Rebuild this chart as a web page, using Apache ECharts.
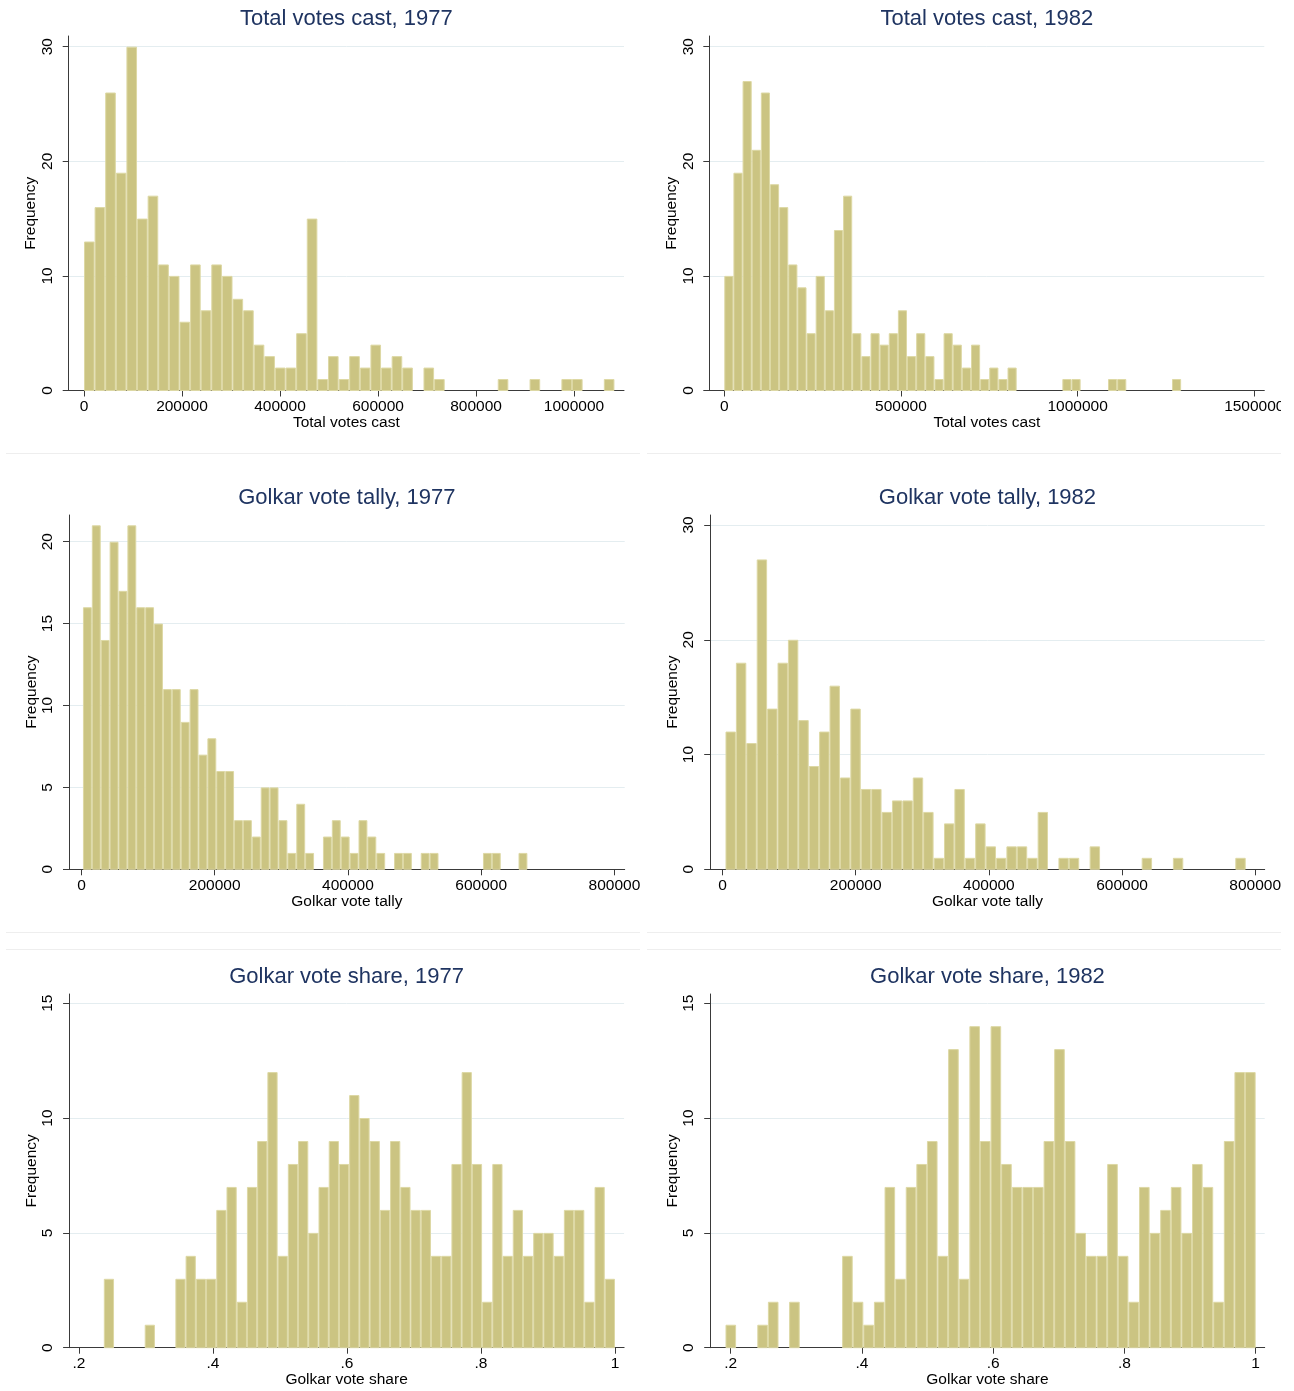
<!DOCTYPE html>
<html><head><meta charset="utf-8">
<script src="https://cdn.jsdelivr.net/npm/echarts@6/dist/echarts.min.js"></script>
<style>html,body{margin:0;padding:0;background:#fff}#c{width:1294px;height:1391px}</style>
</head><body><div id="c"></div>
<script>
// ---------- DATA ----------
// Histogram counts (50 bins each), bin start and bin width (in x units)
const totalVotes1977Counts = [13,16,26,19,30,15,17,11,10,6,11,7,11,10,8,7,4,3,2,2,5,15,1,3,1,3,2,4,2,3,2,0,2,1,0,0,0,0,0,1,0,0,1,0,0,1,1,0,0,1];
const totalVotes1977BinStart = 0;
const totalVotes1977BinWidth = 21650;

const totalVotes1982Counts = [10,19,27,21,26,18,16,11,9,5,10,7,14,17,5,3,5,4,5,7,3,5,3,1,5,4,2,4,1,2,1,2,0,0,0,0,0,1,1,0,0,0,1,1,0,0,0,0,0,1];
const totalVotes1982BinStart = 0;
const totalVotes1982BinWidth = 25858;

const golkarTally1977Counts = [16,21,14,20,17,21,16,16,15,11,11,9,11,7,8,6,6,3,3,2,5,5,3,1,4,1,0,2,3,2,1,3,2,1,0,1,1,0,1,1,0,0,0,0,0,1,1,0,0,1];
const golkarTally1977BinStart = 2186;
const golkarTally1977BinWidth = 13344;

const golkarTally1982Counts = [12,18,11,27,14,18,20,13,9,12,16,8,14,7,7,5,6,6,8,5,1,4,7,1,4,2,1,2,2,1,5,0,1,1,0,2,0,0,0,0,1,0,0,1,0,0,0,0,0,1];
const golkarTally1982BinStart = 4377;
const golkarTally1982BinWidth = 15628;

const golkarShare1977Counts = [3,0,0,0,1,0,0,3,4,3,3,6,7,2,7,9,12,4,8,9,5,7,9,8,11,10,9,6,9,7,6,6,4,4,8,12,8,2,8,4,6,4,5,5,4,6,6,2,7,3];
const golkarShare1977BinStart = 0.2372;
const golkarShare1977BinWidth = 0.015256;

const golkarShare1982Counts = [1,0,0,1,2,0,2,0,0,0,0,4,2,1,2,7,3,7,8,9,4,13,3,14,9,14,8,7,7,7,9,13,9,5,4,4,8,4,2,7,5,6,7,5,8,7,2,9,12,12];
const golkarShare1982BinStart = 0.1922;
const golkarShare1982BinWidth = 0.016156;

// Tick values
const xTicksTotal1977 = [0,200000,400000,600000,800000,1000000];
const xTicksTotal1982 = [0,500000,1000000,1500000];
const xTicksTally = [0,200000,400000,600000,800000];
const xTicksShare = [0.2,0.4,0.6,0.8,1];
const yTicks30 = [0,10,20,30];
const yTicks20 = [0,5,10,15,20];
const yTicks15 = [0,5,10,15];

// Texts
const panelTitles = ["Total votes cast, 1977","Total votes cast, 1982","Golkar vote tally, 1977","Golkar vote tally, 1982","Golkar vote share, 1977","Golkar vote share, 1982"];
const xAxisTitles = ["Total votes cast","Total votes cast","Golkar vote tally","Golkar vote tally","Golkar vote share","Golkar vote share"];
const yAxisTitle = "Frequency";

// ---------- LAYOUT / STYLE ----------
const FONT = '"Liberation Sans", Arial, Helvetica, sans-serif';
const FILL = '#cbc482';
const EDGE = '#ddd8a4';
const GRIDC = '#e4edf0';
const AXISC = '#3a3a3a';

const panels = [
  {counts: totalVotes1977Counts, start: totalVotes1977BinStart, width: totalVotes1977BinWidth, xTicks: xTicksTotal1977, yTicks: yTicks30,
   grid: {left: 68.7, top: 36, width: 555.3, height: 354.5}, xMin: -31200, xMax: 1102000, yMax: 30.93},
  {counts: totalVotes1982Counts, start: totalVotes1982BinStart, width: totalVotes1982BinWidth, xTicks: xTicksTotal1982, yTicks: yTicks30,
   grid: {left: 709.3, top: 36, width: 555, height: 354.5}, xMin: -42450, xMax: 1528300, yMax: 30.93},
  {counts: golkarTally1977Counts, start: golkarTally1977BinStart, width: golkarTally1977BinWidth, xTicks: xTicksTally, yTicks: yTicks20,
   grid: {left: 69, top: 515, width: 555.7, height: 354.3}, xMin: -18750, xMax: 815450, yMax: 21.63},
  {counts: golkarTally1982Counts, start: golkarTally1982BinStart, width: golkarTally1982BinWidth, xTicks: xTicksTally, yTicks: yTicks30,
   grid: {left: 710.2, top: 515, width: 554.5, height: 354.3}, xMin: -18600, xMax: 814300, yMax: 30.87},
  {counts: golkarShare1977Counts, start: golkarShare1977BinStart, width: golkarShare1977BinWidth, xTicks: xTicksShare, yTicks: yTicks15,
   grid: {left: 69.1, top: 994, width: 555, height: 353.7}, xMin: 0.1854, xMax: 1.0136, yMax: 15.4},
  {counts: golkarShare1982Counts, start: golkarShare1982BinStart, width: golkarShare1982BinWidth, xTicks: xTicksShare, yTicks: yTicks15,
   grid: {left: 710.2, top: 994, width: 554.5, height: 353.7}, xMin: 0.1689, xMax: 1.0138, yMax: 15.4}
];

function fmtX(v) {
  if (v > 0 && v < 1) return String(+v.toFixed(2)).replace(/^0/, '');
  return String(v);
}

const option = {
  backgroundColor: '#ffffff',
  animation: false,
  grid: [], xAxis: [], yAxis: [], series: [], graphic: []
};

panels.forEach((p, i) => {
  option.grid.push(Object.assign({containLabel: false, outerBoundsMode: 'none'}, p.grid));
  option.xAxis.push({
    type: 'value', gridIndex: i, min: p.xMin, max: p.xMax,
    name: xAxisTitles[i], nameLocation: 'middle', nameGap: 24.5, nameMoveOverlap: false,
    nameTextStyle: {fontFamily: FONT, fontSize: 15.5, color: '#000'},
    axisLine: {show: true, onZero: false, lineStyle: {color: AXISC, width: 1}},
    axisTick: {show: true, length: 6, customValues: p.xTicks, lineStyle: {color: AXISC}},
    axisLabel: {customValues: p.xTicks, margin: 8, fontFamily: FONT, fontSize: 15.5, color: '#000', formatter: fmtX},
    splitLine: {show: false}
  });
  option.yAxis.push({
    type: 'value', gridIndex: i, min: 0, max: p.yMax,
    name: yAxisTitle, nameLocation: 'middle', nameGap: 29.5, nameMoveOverlap: false,
    nameTextStyle: {fontFamily: FONT, fontSize: 15.5, color: '#000'},
    axisLine: {show: true, onZero: false, lineStyle: {color: AXISC, width: 1}},
    axisTick: {show: true, length: 6, customValues: p.yTicks, lineStyle: {color: AXISC}},
    axisLabel: {customValues: p.yTicks, rotate: 90, margin: 13, fontFamily: FONT, fontSize: 15.5, color: '#000'},
    splitLine: {show: true, lineStyle: {color: GRIDC, width: 1}}
  });
  const data = [];
  p.counts.forEach((c, k) => {
    if (c > 0) data.push([p.start + k * p.width, p.start + (k + 1) * p.width, c]);
  });
  option.series.push({
    type: 'custom', xAxisIndex: i, yAxisIndex: i, data: data,
    encode: {x: [0, 1], y: 2},
    renderItem: function (params, api) {
      const a = api.coord([api.value(0), 0]);
      const b = api.coord([api.value(1), api.value(2)]);
      return {
        type: 'rect',
        shape: {x: a[0] + 0.5, y: b[1] + 0.5, width: b[0] - a[0] - 1, height: a[1] - b[1] - 0.5},
        style: {fill: FILL, stroke: EDGE, lineWidth: 1}
      };
    }
  });
  const cx = p.grid.left + p.grid.width / 2;
  option.graphic.push({
    type: 'text', x: cx, y: p.grid.top - 17,
    style: {text: panelTitles[i], fontFamily: FONT, fontSize: 22, fill: '#1f3461',
            textAlign: 'center', textVerticalAlign: 'middle', align: 'center', verticalAlign: 'middle'}
  });
});

// faint panel borders
[[6, 640, 453.5], [647, 1281, 453.5], [6, 640, 932.5], [647, 1281, 932.5], [6, 640, 949.5], [647, 1281, 949.5]].forEach(l => {
  option.graphic.push({type: 'line', shape: {x1: l[0], y1: l[2], x2: l[1], y2: l[2]}, style: {stroke: '#eeeeee', lineWidth: 1}, silent: true});
});
// right-column panel clips its content at its right edge
option.graphic.push({type: 'rect', shape: {x: 1281, y: 392, width: 13, height: 30}, style: {fill: '#ffffff'}, z: 100, silent: true});

const chart = echarts.init(document.getElementById('c'), null, {renderer: 'canvas', width: 1294, height: 1391});
chart.setOption(option);
</script>
</body></html>
